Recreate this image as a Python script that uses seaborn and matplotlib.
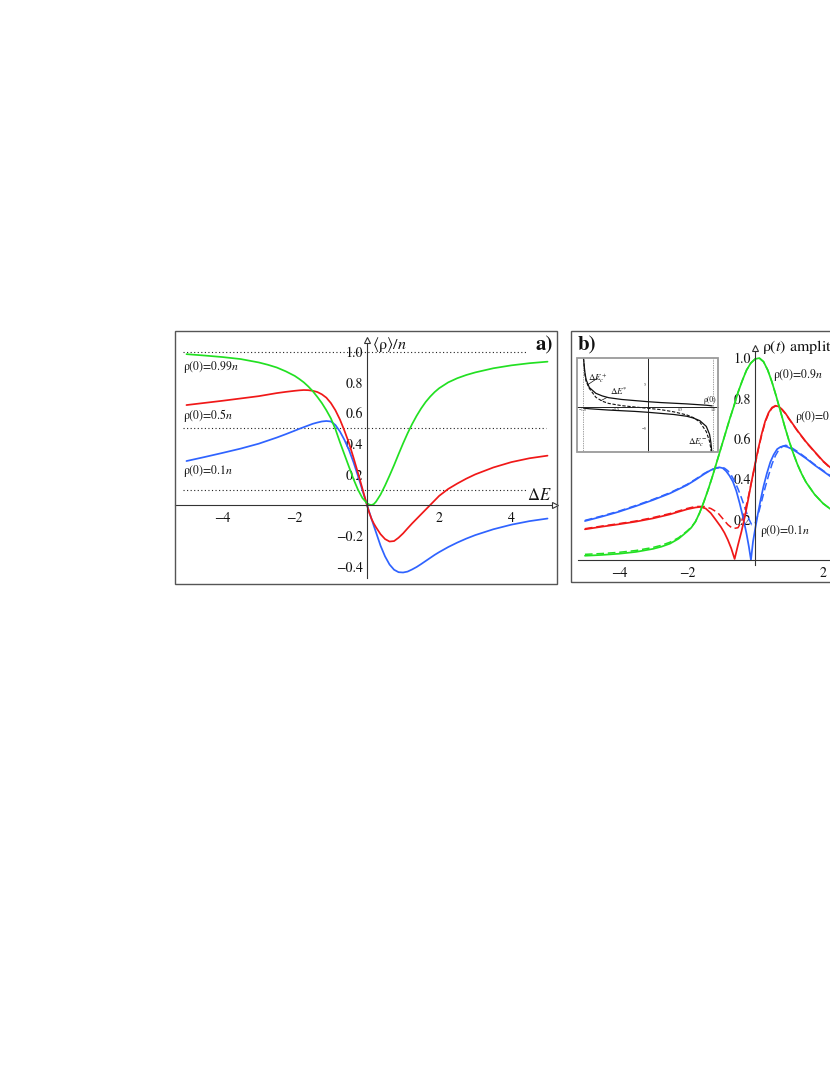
import numpy as np
import pandas as pd
import matplotlib
matplotlib.use("Agg")
import matplotlib.pyplot as plt
import matplotlib.patches as mpatches
from matplotlib.ticker import FixedLocator, FuncFormatter
import seaborn as sns

# ---------------- data: panel a (mean occupation vs detuning) ----------------
dE_a = [-5, -4.5, -4, -3.5, -3, -2.75, -2.5, -2.25, -2, -1.875, -1.75, -1.625, -1.5,
        -1.375, -1.25, -1.125, -1, -0.875, -0.75, -0.625, -0.5, -0.375, -0.25, -0.125, 0,
        0.0625, 0.125, 0.1875, 0.25, 0.375, 0.5, 0.625, 0.75, 0.875, 1, 1.125, 1.25, 1.375,
        1.5, 1.625, 1.75, 1.875, 2, 2.25, 2.5, 2.75, 3, 3.5, 4, 4.5, 5]
rho_a_099 = [0.984, 0.975, 0.965, 0.952, 0.93, 0.915, 0.897, 0.872, 0.842, 0.822, 0.8,
             0.773, 0.742, 0.705, 0.665, 0.618, 0.565, 0.495, 0.41, 0.33, 0.25, 0.17, 0.1,
             0.045, 0.012, 0.003, 0.0, 0.006, 0.022, 0.068, 0.127, 0.192, 0.26, 0.332, 0.402,
             0.468, 0.528, 0.582, 0.63, 0.672, 0.707, 0.737, 0.762, 0.8, 0.827, 0.848, 0.865,
             0.892, 0.911, 0.925, 0.935]
rho_a_05 = [0.652, 0.666, 0.68, 0.695, 0.71, 0.72, 0.73, 0.738, 0.745, 0.748, 0.75, 0.749,
            0.745, 0.737, 0.722, 0.7, 0.665, 0.618, 0.558, 0.485, 0.405, 0.31, 0.21, 0.105,
            0.0, -0.05, -0.09, -0.12, -0.145, -0.19, -0.222, -0.238, -0.235, -0.213, -0.185,
            -0.152, -0.12, -0.09, -0.06, -0.03, 0.0, 0.03, 0.06, 0.105, 0.14, 0.172, 0.2,
            0.245, 0.28, 0.305, 0.322]
rho_a_01 = [0.287, 0.313, 0.34, 0.368, 0.4, 0.42, 0.44, 0.462, 0.485, 0.497, 0.508, 0.519,
            0.53, 0.538, 0.545, 0.548, 0.545, 0.522, 0.48, 0.425, 0.36, 0.28, 0.19, 0.095,
            0.0, -0.045, -0.09, -0.135, -0.178, -0.265, -0.335, -0.388, -0.422, -0.438,
            -0.44, -0.434, -0.42, -0.404, -0.385, -0.365, -0.345, -0.325, -0.307, -0.274,
            -0.245, -0.219, -0.196, -0.158, -0.128, -0.105, -0.088]
ref_levels_a = [1.0, 0.5, 0.1]
labels_a = ["ρ(0)=0.99$n$", "ρ(0)=0.5$n$", "ρ(0)=0.1$n$"]

# ---------------- data: panel b (amplitude of rho(t)) ----------------
dE_b_green = [-5, -4.5, -4, -3.5, -3, -2.75, -2.5, -2.25, -2, -1.875, -1.75, -1.625, -1.5,
              -1.375, -1.25, -1.125, -1, -0.875, -0.75, -0.625, -0.5, -0.375, -0.25, -0.125,
              0, 0.125, 0.25, 0.375, 0.5, 0.625, 0.75, 0.875, 1, 1.125, 1.25, 1.375, 1.5,
              1.75, 2, 2.25, 2.5]
amp_green = [0.021, 0.025, 0.031, 0.04, 0.055, 0.066, 0.081, 0.105, 0.14, 0.16, 0.19, 0.235,
             0.29, 0.35, 0.415, 0.485, 0.555, 0.625, 0.695, 0.76, 0.83, 0.888, 0.94, 0.975,
             0.995, 1.0, 0.982, 0.94, 0.88, 0.81, 0.735, 0.66, 0.59, 0.528, 0.472, 0.425,
             0.385, 0.325, 0.28, 0.248, 0.22]
amp_green_dash = [0.028, 0.032, 0.038, 0.047, 0.062, 0.073, 0.088, 0.11, 0.143, 0.162, 0.19,
                  0.235, 0.29, 0.35, 0.415, 0.485, 0.555, 0.625, 0.695, 0.76, 0.83, 0.888,
                  0.94, 0.975, 0.995, 1.0, 0.982, 0.94, 0.88, 0.81, 0.735, 0.66, 0.59, 0.528,
                  0.472, 0.425, 0.385, 0.325, 0.28, 0.248, 0.22]

dE_b_red = [-5, -4.5, -4, -3.5, -3, -2.5, -2, -1.75, -1.6, -1.45, -1.3, -1.15, -1.0, -0.9,
            -0.8, -0.7, -0.6, -0.5, -0.4, -0.3, -0.2, -0.1, 0, 0.1, 0.2, 0.3, 0.4, 0.5, 0.6,
            0.7, 0.8, 0.9, 1.0, 1.25, 1.5, 1.75, 2.0, 2.25, 2.5]
amp_red = [0.152, 0.165, 0.177, 0.19, 0.206, 0.226, 0.251, 0.26, 0.263, 0.255, 0.232, 0.198,
           0.163, 0.135, 0.1, 0.058, 0.005, 0.075, 0.14, 0.214, 0.3, 0.39, 0.475, 0.555,
           0.627, 0.688, 0.73, 0.755, 0.764, 0.76, 0.745, 0.725, 0.7, 0.64, 0.585, 0.537,
           0.49, 0.452, 0.42]
dE_b_red_dash = [-5, -4.5, -4, -3.5, -3, -2.5, -2, -1.75, -1.5, -1.3, -1.1, -0.95, -0.8,
                 -0.65, -0.5, -0.4, -0.3, -0.2, -0.1, 0, 0.1, 0.2, 0.3, 0.4, 0.5, 0.6, 0.7,
                 0.8, 0.9, 1.0, 1.25, 1.5, 1.75, 2, 2.25, 2.5]
amp_red_dash = [0.155, 0.168, 0.18, 0.193, 0.21, 0.23, 0.255, 0.265, 0.265, 0.255, 0.235,
                0.205, 0.175, 0.155, 0.16, 0.19, 0.24, 0.31, 0.39, 0.47, 0.55, 0.622, 0.683,
                0.726, 0.752, 0.762, 0.758, 0.743, 0.723, 0.698, 0.638, 0.583, 0.535, 0.488,
                0.45, 0.418]

dE_b_blue = [-5, -4.5, -4, -3.5, -3, -2.5, -2, -1.75, -1.5, -1.3, -1.15, -1.05, -0.95, -0.85,
             -0.75, -0.65, -0.55, -0.45, -0.35, -0.25, -0.18, -0.12, -0.06, 0, 0.08, 0.16,
             0.25, 0.35, 0.45, 0.55, 0.65, 0.75, 0.85, 0.95, 1.1, 1.25, 1.5, 1.75, 2, 2.25,
             2.5]
amp_blue = [0.193, 0.215, 0.239, 0.267, 0.297, 0.33, 0.371, 0.397, 0.425, 0.445, 0.455,
            0.459, 0.455, 0.44, 0.417, 0.388, 0.342, 0.28, 0.21, 0.13, 0.065, 0.0, 0.09,
            0.15, 0.225, 0.295, 0.365, 0.43, 0.485, 0.522, 0.549, 0.56, 0.564, 0.56, 0.548,
            0.532, 0.503, 0.47, 0.44, 0.41, 0.385]
dE_b_blue_dash = [-5, -4.5, -4, -3.5, -3, -2.5, -2, -1.75, -1.5, -1.3, -1.15, -1.0, -0.9,
                  -0.8, -0.7, -0.6, -0.5, -0.4, -0.3, -0.2, -0.1, 0.0, 0.1, 0.2, 0.3, 0.4,
                  0.5, 0.6, 0.7, 0.8, 0.9, 1.0, 1.25, 1.5, 1.75, 2, 2.25, 2.5]
amp_blue_dash = [0.196, 0.218, 0.242, 0.27, 0.3, 0.333, 0.374, 0.4, 0.428, 0.446, 0.455,
                 0.458, 0.455, 0.442, 0.42, 0.39, 0.352, 0.308, 0.26, 0.21, 0.175, 0.18,
                 0.23, 0.295, 0.36, 0.42, 0.475, 0.517, 0.546, 0.562, 0.568, 0.564, 0.537,
                 0.506, 0.473, 0.443, 0.413, 0.388]
labels_b = ["ρ(0)=0.9$n$", "ρ(0)=0.5$n$", "ρ(0)=0.1$n$"]

# ---------------- data: inset (critical detunings vs rho(0)) ----------------
rho0_in = [-0.99, -0.97, -0.95, -0.9, -0.8, -0.7, -0.6, -0.4, -0.2, 0.0, 0.2, 0.4, 0.6,
           0.7, 0.8, 0.9, 0.95, 0.97, 0.99]
dEc_plus = [11.0, 8.0, 6.2, 4.4, 3.1, 2.5, 2.1, 1.7, 1.45, 1.2, 1.0, 0.85, 0.7, 0.6, 0.5,
            0.4, 0.32, 0.28, 0.25]
dE_star = [11.0, 7.5, 5.8, 4.2, 2.2, 1.3, 0.8, 0.3, 0.0, -0.3, -0.6, -1.1, -1.8, -2.4,
           -3.4, -5.6, -7.8, -9.5, -12.0]
dEc_minus = [-0.25, -0.28, -0.32, -0.4, -0.5, -0.6, -0.7, -0.85, -1.0, -1.2, -1.45, -1.7,
             -2.1, -2.5, -3.1, -4.4, -6.2, -8.0, -11.0]

GREEN, RED, BLUE = "#22e022", "#f01818", "#2f63ff"
AXC = "#333333"

sns.set_theme(style="white")
plt.rcParams["font.family"] = ["STIXGeneral", "DejaVu Serif"]
plt.rcParams["mathtext.fontset"] = "stix"
plt.rcParams["axes.unicode_minus"] = True

fig = plt.figure(figsize=(8.3, 10.75), dpi=100)
fig.patch.set_facecolor("white")

fmt1 = FuncFormatter(lambda v, p: f"{v:.1f}".replace("-", "\u2212"))
fmt0 = FuncFormatter(lambda v, p: f"{v:.0f}".replace("-", "\u2212"))


def style_axes(ax, xmaj, xmin_, ymaj, ymin_, ybounds, xbounds, ylab_fmt):
    for s in ["top", "right"]:
        ax.spines[s].set_visible(False)
    ax.spines["left"].set_position(("data", 0))
    ax.spines["bottom"].set_position(("data", 0))
    for s in ["left", "bottom"]:
        ax.spines[s].set_color(AXC)
        ax.spines[s].set_linewidth(0.8)
    ax.spines["left"].set_bounds(*ybounds)
    ax.spines["bottom"].set_bounds(*xbounds)
    ax.xaxis.set_major_locator(FixedLocator(xmaj))
    ax.xaxis.set_minor_locator(FixedLocator(xmin_))
    ax.yaxis.set_major_locator(FixedLocator(ymaj))
    ax.yaxis.set_minor_locator(FixedLocator(ymin_))
    ax.xaxis.set_major_formatter(fmt0)
    ax.yaxis.set_major_formatter(ylab_fmt)
    ax.tick_params(which="major", direction="in", length=4, width=0.6, color=AXC,
                   labelsize=10, labelcolor="#111111")
    ax.tick_params(which="minor", direction="in", length=2, width=0.5, color=AXC)
    ax.tick_params(axis="x", which="major", pad=5)
    ax.tick_params(axis="y", which="major", pad=3)
    ax.set_xlabel("")
    ax.set_ylabel("")
    ax.add_patch(mpatches.Rectangle((0, 0), 1, 1, transform=ax.transAxes, fill=False,
                                    ec="#555555", lw=1.0, clip_on=False, zorder=10))
    # axis arrowheads
    ax.plot([xbounds[1]], [0], marker=">", ms=5, mfc="white", mec=AXC, mew=0.8,
            clip_on=False, zorder=6)
    ax.plot([0], [ybounds[1]], marker="^", ms=5, mfc="white", mec=AXC, mew=0.8,
            clip_on=False, zorder=6)


def halves(lo, hi, step, skip):
    vals = np.round(np.arange(lo, hi + 1e-9, step), 3)
    return [v for v in vals if not any(abs(v - s) < 1e-6 for s in skip)]


# ---------------- panel a ----------------
axA = fig.add_axes([175 / 830, 1 - 584 / 1075, 382 / 830, 253 / 1075])
axA.set_facecolor("white")
dfA = pd.DataFrame({
    "dE": dE_a * 3,
    "rho": rho_a_099 + rho_a_05 + rho_a_01,
    "curve": ["0.99"] * len(dE_a) + ["0.5"] * len(dE_a) + ["0.1"] * len(dE_a),
})
sns.lineplot(data=dfA, x="dE", y="rho", hue="curve",
             palette={"0.99": GREEN, "0.5": RED, "0.1": BLUE},
             hue_order=["0.1", "0.5", "0.99"], estimator=None, sort=False,
             lw=1.25, legend=False, ax=axA)
axA.hlines(ref_levels_a, xmin=[-5.1, -5.1, -5.1], xmax=[4.4, 4.97, 4.4],
           colors="#222222", linestyles=(0, (1, 2.2)), lw=0.8, zorder=1)
axA.set_xlim(-5.318, 5.263)
axA.set_ylim(-0.515, 1.135)
style_axes(axA, [-4, -2, 2, 4], halves(-5, 5, 0.5, [-4, -2, 0, 2, 4]),
           [-0.4, -0.2, 0.2, 0.4, 0.6, 0.8, 1.0],
           halves(-0.45, 1.05, 0.05, [-0.4, -0.2, 0, 0.2, 0.4, 0.6, 0.8, 1.0]),
           (-0.476, 1.075), (-5.318, 5.2), fmt1)
for lab, yy in zip(labels_a, [0.902, 0.587, 0.224]):
    axA.text(-5.1, yy, lab, fontsize=8.5, ha="left", va="center", color="#111111")
axA.text(0.14, 1.044, r"$\langle\mathrm{\rho}\rangle/n$", fontsize=11.5, ha="left",
         va="center", color="#111111")
axA.text(4.78, 0.062, r"$\Delta E$", fontsize=12, ha="center", va="center",
         color="#111111")
axA.text(0.99, 0.945, "a)", transform=axA.transAxes, fontsize=15, fontweight="bold",
         ha="right", va="center", color="#111111")

# ---------------- panel b ----------------
axB = fig.add_axes([571 / 830, 1 - 582 / 1075, 382 / 830, 251 / 1075])
axB.set_facecolor("white")
solid_b = [(dE_b_blue, amp_blue, BLUE), (dE_b_red, amp_red, RED),
           (dE_b_green, amp_green, GREEN)]
dash_b = [(dE_b_blue_dash, amp_blue_dash, BLUE), (dE_b_red_dash, amp_red_dash, RED),
          (dE_b_green, amp_green_dash, GREEN)]
for xs, ys, c in dash_b:
    sns.lineplot(x=xs, y=ys, color=c, lw=1.1, linestyle=(0, (5, 2.5)), estimator=None,
                 sort=False, ax=axB)
for xs, ys, c in solid_b:
    sns.lineplot(x=xs, y=ys, color=c, lw=1.25, estimator=None, sort=False, ax=axB)
axB.set_xlim(-5.41, 5.82)
axB.set_ylim(-0.109, 1.134)
style_axes(axB, [-4, -2, 2, 4], halves(-5, 5.5, 0.5, [-4, -2, 0, 2, 4]),
           [0.2, 0.4, 0.6, 0.8, 1.0],
           halves(0.05, 1.05, 0.05, [0.2, 0.4, 0.6, 0.8, 1.0]),
           (-0.025, 1.05), (-5.2, 5.8), fmt1)
axB.text(0.018, 0.944, "b)", transform=axB.transAxes, fontsize=15, fontweight="bold",
         ha="left", va="center", color="#111111")
axB.text(0.2, 1.054, "ρ$(t)$ amplitude", fontsize=11.5, ha="left", va="center",
         color="#111111")
for lab, (xx, yy) in zip(labels_b, [(0.53, 0.915), (1.18, 0.71), (0.15, 0.144)]):
    axB.text(xx, yy, lab, fontsize=8.5, ha="left", va="center", color="#111111")

# ---------------- inset ----------------
axI = fig.add_axes([577 / 830, 1 - 452 / 1075, 141 / 830, 94 / 1075])
axI.set_facecolor("white")
sns.lineplot(x=rho0_in, y=dEc_plus, color="#111111", lw=0.9, estimator=None, sort=False,
             ax=axI)
sns.lineplot(x=rho0_in, y=dEc_minus, color="#111111", lw=0.9, estimator=None, sort=False,
             ax=axI)
sns.lineplot(x=rho0_in, y=dE_star, color="#111111", lw=0.8, linestyle=(0, (3, 1.5)),
             estimator=None, sort=False, ax=axI)
axI.axvline(-1, color="#444444", lw=0.5, linestyle=(0, (1, 1.5)))
axI.axvline(1, color="#444444", lw=0.5, linestyle=(0, (1, 1.5)))
axI.set_xlim(-1.09, 1.08)
axI.set_ylim(-10.2, 11.1)
for s in ["top", "right"]:
    axI.spines[s].set_visible(False)
axI.spines["left"].set_position(("data", 0))
axI.spines["bottom"].set_position(("data", 0))
for s in ["left", "bottom"]:
    axI.spines[s].set_color("#222222")
    axI.spines[s].set_linewidth(0.7)
axI.xaxis.set_major_locator(FixedLocator([-1.0, -0.5, 0.5, 1.0]))
axI.yaxis.set_major_locator(FixedLocator([-5, 5]))
axI.xaxis.set_minor_locator(FixedLocator(halves(-1.0, 1.0, 0.1, [-1.0, -0.5, 0, 0.5, 1.0])))
axI.yaxis.set_minor_locator(FixedLocator(halves(-10, 10, 1, [-5, 0, 5])))
axI.xaxis.set_major_formatter(fmt1)
axI.yaxis.set_major_formatter(fmt0)
axI.tick_params(which="major", direction="in", length=2, width=0.4, color="#333333",
                labelsize=3, pad=1, labelcolor="#333333")
axI.tick_params(which="minor", direction="in", length=1, width=0.3, color="#333333")
axI.set_xlabel("")
axI.set_ylabel("")
axI.add_patch(mpatches.Rectangle((0, 0), 1, 1, transform=axI.transAxes, fill=False,
                                 ec="#9a9a9a", lw=1.3, clip_on=False, zorder=10))
axI.annotate(r"$\Delta E_c^+$", xy=(-0.93, 5.0), xytext=(-0.92, 6.6), fontsize=6.5,
             ha="left", va="center", color="#111111",
             arrowprops=dict(arrowstyle="-", lw=0.5, color="#111111",
                             shrinkA=0, shrinkB=0))
axI.annotate(r"$\Delta E^{*}$", xy=(-0.72, 1.45), xytext=(-0.58, 3.6), fontsize=6.5,
             ha="left", va="center", color="#111111",
             arrowprops=dict(arrowstyle="-", lw=0.5, color="#111111",
                             shrinkA=0, shrinkB=0))
axI.text(1.06, 1.6, "ρ(0)", fontsize=5.5, ha="right", va="center", color="#111111")
axI.text(0.62, -8.2, r"$\Delta E_c^-$", fontsize=6.5, ha="left", va="center",
         color="#111111")

fig.savefig("out.png", dpi=100, facecolor="white")
